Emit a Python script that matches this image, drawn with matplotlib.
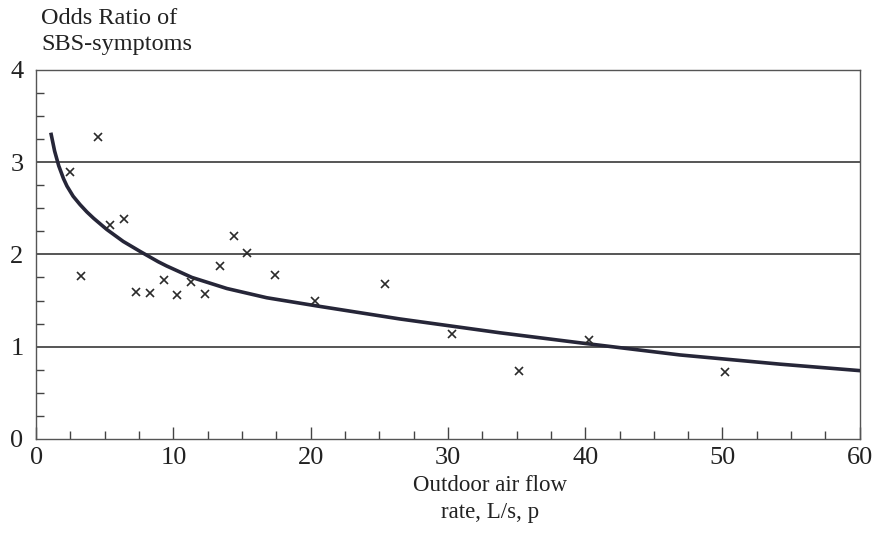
import matplotlib
matplotlib.use("Agg")
import matplotlib.pyplot as plt
from matplotlib.ticker import MultipleLocator

plt.rcParams['font.family'] = ['Liberation Serif', 'DejaVu Serif']

# observed points (outdoor air flow, odds ratio)
flow = [2.5, 4.5, 3.3, 5.4, 6.4, 7.3, 8.3, 9.3, 10.3, 11.3, 12.3, 13.4, 14.4,
        15.4, 17.4, 20.3, 25.4, 30.3, 35.2, 40.3, 50.2]
odds = [2.89, 3.27, 1.77, 2.32, 2.38, 1.59, 1.58, 1.72, 1.56, 1.70, 1.57, 1.87,
        2.20, 2.02, 1.78, 1.50, 1.68, 1.14, 0.74, 1.07, 0.72]

# fitted curve
curve_x = [1.1, 1.35, 1.65, 2.0, 2.25, 2.7, 3.2, 3.7, 4.2, 5.15, 6.35, 7.6, 8.9,
           9.5, 11.35, 13.9, 16.8, 20.5, 26.5, 33.8, 39.7, 46.9, 54.2, 60.0]
curve_y = [3.30, 3.12, 2.96, 2.82, 2.74, 2.63, 2.54, 2.46, 2.39, 2.27, 2.14, 2.03,
           1.92, 1.875, 1.75, 1.63, 1.53, 1.44, 1.30, 1.15, 1.04, 0.91, 0.81, 0.74]

fig = plt.figure(figsize=(8.8, 5.5), dpi=100)
ax = fig.add_axes([0.041, 0.202, 0.936, 0.671])

for g in [1, 2, 3]:
    ax.axhline(g, color='#555555', lw=1.4, zorder=1)

ax.plot(curve_x, curve_y, color='#262638', lw=2.6, zorder=3,
        solid_joinstyle='round')
ax.plot(flow, odds, 'x', color='#2a2a2a', ms=6, mew=1.2, zorder=4)

ax.set_xlim(0, 60)
ax.set_ylim(0, 4)
ax.xaxis.set_major_locator(MultipleLocator(10))
ax.xaxis.set_minor_locator(MultipleLocator(2.5))
ax.yaxis.set_major_locator(MultipleLocator(1))
ax.yaxis.set_minor_locator(MultipleLocator(0.25))
ax.tick_params(which='both', direction='in', colors='#444444', labelcolor='#222222',
               labelsize=19, width=1)
ax.tick_params(axis='x', which='major', length=9, pad=6)
ax.tick_params(axis='x', which='minor', length=6)
ax.tick_params(axis='y', which='major', length=0, pad=9)
ax.tick_params(axis='y', which='minor', length=6)

for s in ax.spines.values():
    s.set_color('#555555')
    s.set_linewidth(1.0)

fig.text(0.047, 0.985, 'Odds Ratio of\nSBS-symptoms', ha='left', va='top',
         fontsize=17.5, color='#222222', linespacing=1.32)
fig.text(0.557, 0.137, 'Outdoor air flow\nrate, L/s, p', ha='center', va='top',
         fontsize=16.5, color='#222222', linespacing=1.4)

fig.savefig('out.png', dpi=100, facecolor='white')
